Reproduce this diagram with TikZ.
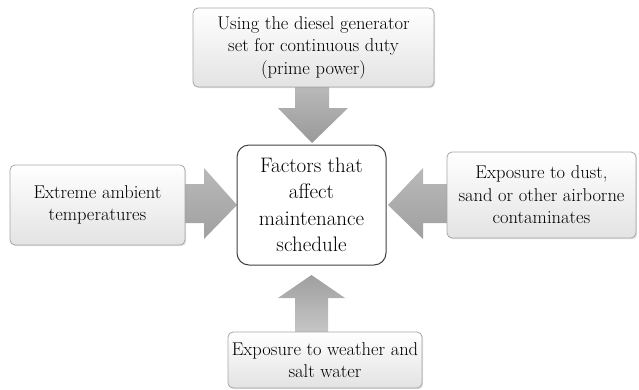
\documentclass[tikz,border=0pt]{standalone}
\usetikzlibrary{shadows}
\begin{document}
\begin{tikzpicture}[x=1pt,y=-1pt,
  sidebox/.style={draw=gray!70, line width=0.8pt, rounded corners=5pt,
    top color=white, bottom color=gray!22, align=center, inner sep=0pt,
    drop shadow={opacity=0.25, shadow xshift=1.2pt, shadow yshift=-1.2pt},
    font=\fontsize{18.5}{22.5}\selectfont},
  centerbox/.style={draw=black!75, line width=1pt, rounded corners=12pt, fill=white,
    align=center, inner sep=0pt, font=\fontsize{21}{26.5}\selectfont},
  blockarrow/.style={left color=gray!75, right color=gray!50, draw=none}
]
\useasboundingbox (0,0) rectangle (639,389);

% arrows
\path[blockarrow, top color=gray!55, bottom color=gray!80] (295,87) -- (329,87) -- (329,108) -- (348,108) -- (312,143) -- (278,108) -- (295,108) -- cycle;
\path[blockarrow, top color=gray!55, bottom color=gray!75] (185,184) -- (204,184) -- (204,168) -- (237,205) -- (204,239) -- (204,223) -- (185,223) -- cycle;
\path[blockarrow, top color=gray!55, bottom color=gray!75] (447,184) -- (423,184) -- (423,168) -- (388,205) -- (423,239) -- (423,223) -- (447,223) -- cycle;
\path[blockarrow, top color=gray!75, bottom color=gray!45] (295,332) -- (328,332) -- (328,298) -- (345,298) -- (311.5,275) -- (278,298) -- (295,298) -- cycle;

% boxes
\node[centerbox, minimum width=149pt, minimum height=120pt] (c) at (311.5,205)
  {Factors that\\affect\\maintenance\\schedule};
\node[sidebox, minimum width=241pt, minimum height=79pt] (t) at (313.5,47.5)
  {Using the diesel generator\\set for continuous duty\\(prime power)};
\node[sidebox, minimum width=175pt, minimum height=80pt] (l) at (97.5,205)
  {Extreme ambient\\temperatures};
\node[sidebox, minimum width=189pt, minimum height=86pt] (r) at (541.5,195)
  {Exposure to dust,\\sand or other airborne\\contaminates};
\node[sidebox, minimum width=194pt, minimum height=56pt] (b) at (325,360)
  {Exposure to weather and\\salt water};
\end{tikzpicture}
\end{document}
